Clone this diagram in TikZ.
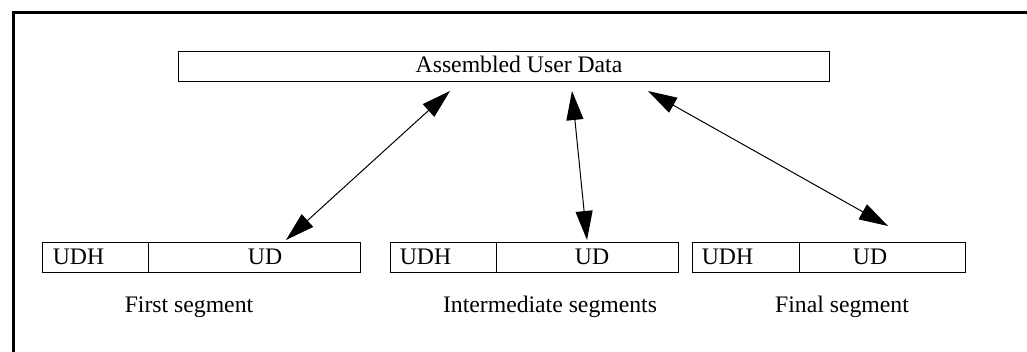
\documentclass[tikz,border=0pt]{standalone}
\usepackage{fontspec}
\setmainfont{Liberation Serif}
\usetikzlibrary{arrows.meta}
\begin{document}
\begin{tikzpicture}[x=1pt,y=-1pt,
  box/.style={draw=black,line width=1.3pt,inner sep=0pt,minimum height=30pt,anchor=north west},
  txt/.style={font=\fontsize{23.7}{26}\selectfont,inner sep=0pt,anchor=base},
  link/.style={line width=1pt,{Triangle[length=29pt,width=17pt]}-{Triangle[length=29pt,width=17pt]}}]
\useasboundingbox (0,0) rectangle (1027,351);
% frame (clipped by the page)
\draw[line width=2.6pt] (13.5,360) -- (13.5,12.5) -- (1040,12.5);
% top box
\node[box,minimum width=651pt] (top) at (178,51) {};
\node[txt] (toptxt) at (519,72) {Assembled User Data};
% segment 1
\node[box,minimum width=106pt] (h1) at (42,242) {};
\node[box,minimum width=212pt] (d1) at (148,242) {};
\node[txt] (h1t) at (78.5,264) {UDH};
\node[txt] (d1t) at (265,264) {UD};
\node[txt] (l1) at (189,312) {First segment};
% segment 2
\node[box,minimum width=106pt] (h2) at (390,242) {};
\node[box,minimum width=182pt] (d2) at (496,242) {};
\node[txt] (h2t) at (425.5,264) {UDH};
\node[txt] (d2t) at (592,264) {UD};
\node[txt] (l2) at (550,312) {Intermediate segments};
% segment 3
\node[box,minimum width=107pt] (h3) at (692,242) {};
\node[box,minimum width=166pt] (d3) at (799,242) {};
\node[txt] (h3t) at (727.5,264) {UDH};
\node[txt] (d3t) at (870,264) {UD};
\node[txt] (l3) at (842,312) {Final segment};
% arrow end points
\coordinate (a1) at (450,91);
\coordinate (b1) at (286,240);
\coordinate (a2) at (572,91);
\coordinate (b2) at (587,240);
\coordinate (a3) at (648,91);
\coordinate (b3) at (888,226);
\draw[link] (a1) -- (b1);
\draw[link] (a2) -- (b2);
\draw[link] (a3) -- (b3);
\end{tikzpicture}
\end{document}
